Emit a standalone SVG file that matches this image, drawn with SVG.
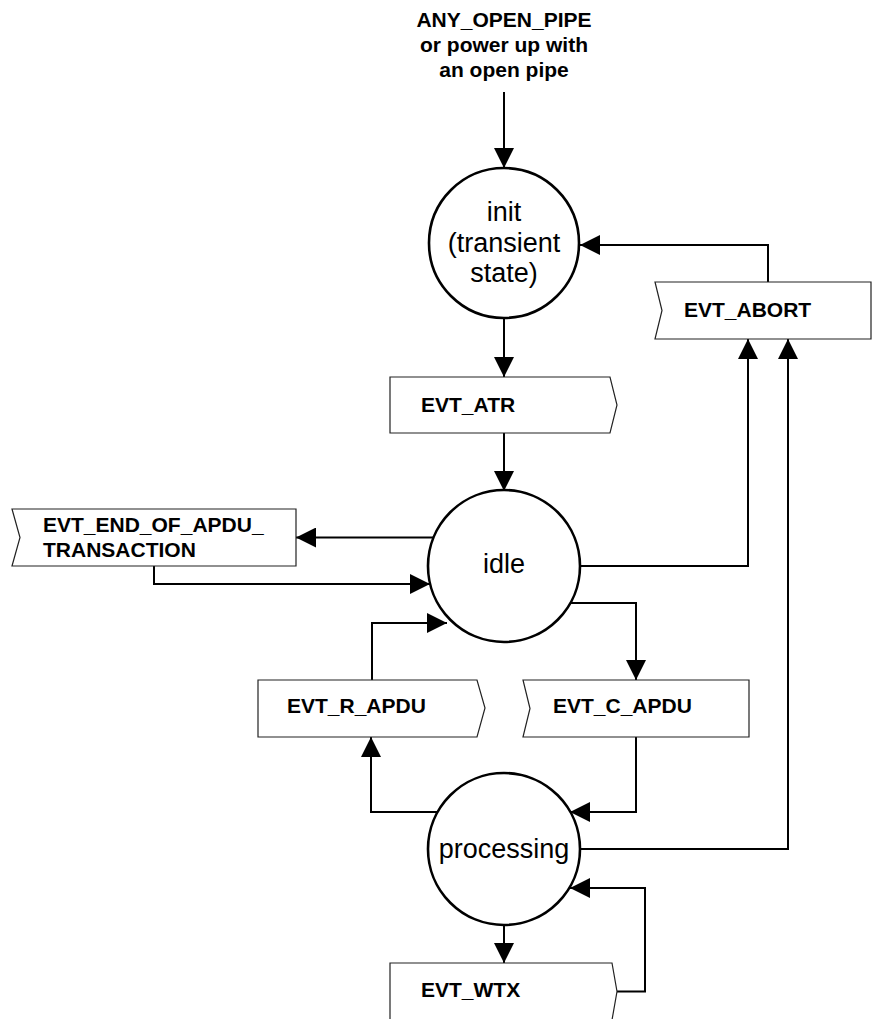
<svg xmlns="http://www.w3.org/2000/svg" width="872" height="1019" viewBox="0 0 872 1019">
<style>
.state{fill:#fff;stroke:#000;stroke-width:2.6}
.evt{fill:#fff;stroke:#222;stroke-width:1.2}
.conn{fill:none;stroke:#000;stroke-width:2}
.st{font-family:"Liberation Sans",Arial,sans-serif;font-size:27px;fill:#000;text-anchor:middle}
.lb{font-family:"Liberation Sans",Arial,sans-serif;font-size:21px;font-weight:bold;fill:#000}
</style>
<defs>
<marker id="ah" markerUnits="userSpaceOnUse" markerWidth="20" markerHeight="20" viewBox="0 0 20 20" refX="20" refY="10" orient="auto">
<path d="M0,0 L20,10 L0,20 Z" fill="#000"/>
</marker>
</defs>
<rect width="872" height="1019" fill="#fff"/>
<g id="start-label">
<text class="lb" x="504" y="27" text-anchor="middle">ANY_OPEN_PIPE</text>
<text class="lb" x="504" y="52" text-anchor="middle">or power up with</text>
<text class="lb" x="504" y="77" text-anchor="middle">an open pipe</text>
</g>
<g id="connectors">
<path class="conn" d="M504,92 V168" marker-end="url(#ah)"/>
<path class="conn" d="M768,282 V245 H580" marker-end="url(#ah)"/>
<path class="conn" d="M504,318 V377" marker-end="url(#ah)"/>
<path class="conn" d="M504,433 V491" marker-end="url(#ah)"/>
<path class="conn" d="M434,537.5 H296" marker-end="url(#ah)"/>
<path class="conn" d="M154,566 V584 H430" marker-end="url(#ah)"/>
<path class="conn" d="M580,566 H748 V339" marker-end="url(#ah)"/>
<path class="conn" d="M571,603 H636 V680" marker-end="url(#ah)"/>
<path class="conn" d="M372,680 V623 H447" marker-end="url(#ah)"/>
<path class="conn" d="M636,737 V812 H570" marker-end="url(#ah)"/>
<path class="conn" d="M437,812 H371 V737" marker-end="url(#ah)"/>
<path class="conn" d="M580,849 H788 V339" marker-end="url(#ah)"/>
<path class="conn" d="M504,925 V963" marker-end="url(#ah)"/>
<path class="conn" d="M617,991.5 H645 V888 H570" marker-end="url(#ah)"/>
</g>
<g id="init">
<circle class="state" cx="504" cy="243" r="75"/>
<text class="st" x="504" y="221">init</text>
<text class="st" x="504" y="252">(transient</text>
<text class="st" x="504" y="282">state)</text>
</g>
<g id="idle">
<circle class="state" cx="504" cy="566" r="76"/>
<text class="st" x="504" y="573">idle</text>
</g>
<g id="processing">
<circle class="state" cx="504" cy="849" r="76"/>
<text class="st" x="504" y="858">processing</text>
</g>
<g id="evt-abort">
<path class="evt" d="M655,282 H871 V339 H655 L662,310.5 Z"/>
<text class="lb" x="684" y="317">EVT_ABORT</text>
</g>
<g id="evt-atr">
<path class="evt" d="M390,377 H610 L617,405 L610,433 H390 Z"/>
<text class="lb" x="421" y="412">EVT_ATR</text>
</g>
<g id="evt-end">
<path class="evt" d="M12,509 H296 V566 H12 L20,537.5 Z"/>
<text class="lb" x="43" y="532">EVT_END_OF_APDU_</text>
<text class="lb" x="43" y="557">TRANSACTION</text>
</g>
<g id="evt-r-apdu">
<path class="evt" d="M258,680 H477 L485,708 L477,737 H258 Z"/>
<text class="lb" x="287" y="713">EVT_R_APDU</text>
</g>
<g id="evt-c-apdu">
<path class="evt" d="M523,680 H749 V737 H523 L530,708.5 Z"/>
<text class="lb" x="553" y="713">EVT_C_APDU</text>
</g>
<g id="evt-wtx">
<path class="evt" d="M390,963 H612 L617,991.5 L612,1020 H390 Z"/>
<text class="lb" x="421" y="997">EVT_WTX</text>
</g>
</svg>
